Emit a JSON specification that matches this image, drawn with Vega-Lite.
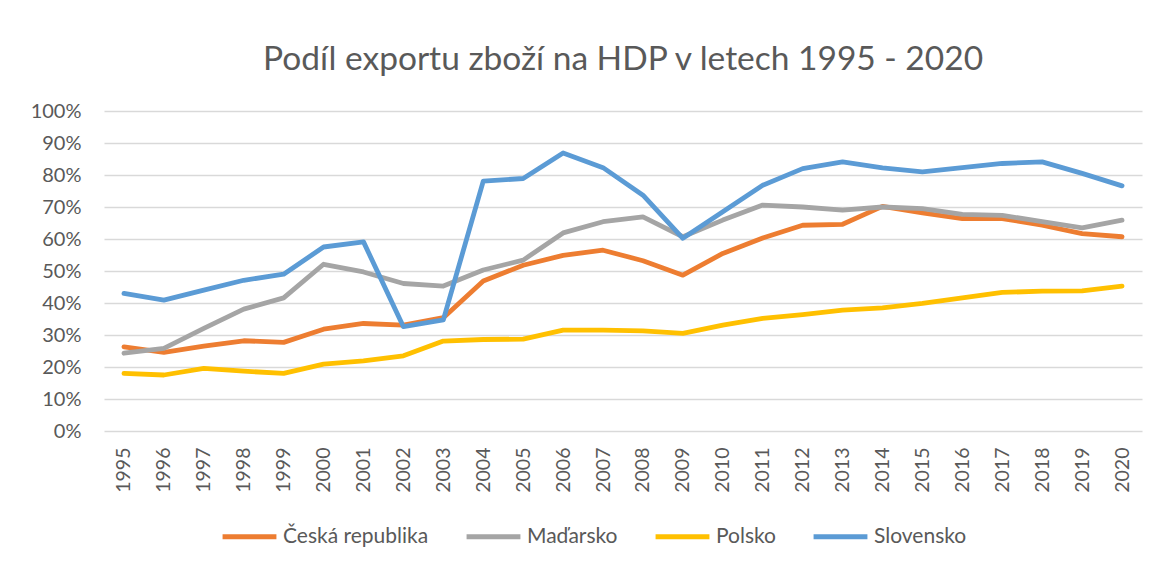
{
  "$schema": "https://vega.github.io/schema/vega-lite/v6.json",
  "width": 1038,
  "height": 320,
  "autosize": "none",
  "padding": {"left": 104, "top": 111, "right": 16, "bottom": 136},
  "background": "white",
  "title": {
    "text": "Podíl exportu zboží na HDP v letech 1995 - 2020",
    "font": "Lato",
    "fontSize": 33.5,
    "fontWeight": "normal",
    "color": "#595959",
    "anchor": "middle",
    "baseline": "alphabetic",
    "offset": -2
  },
  "data": {
    "values": [
      {"rok": "1995", "zeme": "Česká republika", "podil": 0.263},
      {"rok": "1996", "zeme": "Česká republika", "podil": 0.246},
      {"rok": "1997", "zeme": "Česká republika", "podil": 0.265},
      {"rok": "1998", "zeme": "Česká republika", "podil": 0.282},
      {"rok": "1999", "zeme": "Česká republika", "podil": 0.277},
      {"rok": "2000", "zeme": "Česká republika", "podil": 0.318},
      {"rok": "2001", "zeme": "Česká republika", "podil": 0.336},
      {"rok": "2002", "zeme": "Česká republika", "podil": 0.331},
      {"rok": "2003", "zeme": "Česká republika", "podil": 0.354},
      {"rok": "2004", "zeme": "Česká republika", "podil": 0.469},
      {"rok": "2005", "zeme": "Česká republika", "podil": 0.518},
      {"rok": "2006", "zeme": "Česká republika", "podil": 0.549},
      {"rok": "2007", "zeme": "Česká republika", "podil": 0.565},
      {"rok": "2008", "zeme": "Česká republika", "podil": 0.532},
      {"rok": "2009", "zeme": "Česká republika", "podil": 0.487},
      {"rok": "2010", "zeme": "Česká republika", "podil": 0.555},
      {"rok": "2011", "zeme": "Česká republika", "podil": 0.603},
      {"rok": "2012", "zeme": "Česká republika", "podil": 0.643},
      {"rok": "2013", "zeme": "Česká republika", "podil": 0.646},
      {"rok": "2014", "zeme": "Česká republika", "podil": 0.702},
      {"rok": "2015", "zeme": "Česká republika", "podil": 0.682},
      {"rok": "2016", "zeme": "Česká republika", "podil": 0.664},
      {"rok": "2017", "zeme": "Česká republika", "podil": 0.664},
      {"rok": "2018", "zeme": "Česká republika", "podil": 0.643},
      {"rok": "2019", "zeme": "Česká republika", "podil": 0.617},
      {"rok": "2020", "zeme": "Česká republika", "podil": 0.607},
      {"rok": "1995", "zeme": "Maďarsko", "podil": 0.243},
      {"rok": "1996", "zeme": "Maďarsko", "podil": 0.258},
      {"rok": "1997", "zeme": "Maďarsko", "podil": 0.321},
      {"rok": "1998", "zeme": "Maďarsko", "podil": 0.381},
      {"rok": "1999", "zeme": "Maďarsko", "podil": 0.416},
      {"rok": "2000", "zeme": "Maďarsko", "podil": 0.521},
      {"rok": "2001", "zeme": "Maďarsko", "podil": 0.497},
      {"rok": "2002", "zeme": "Maďarsko", "podil": 0.461},
      {"rok": "2003", "zeme": "Maďarsko", "podil": 0.453},
      {"rok": "2004", "zeme": "Maďarsko", "podil": 0.503},
      {"rok": "2005", "zeme": "Maďarsko", "podil": 0.534},
      {"rok": "2006", "zeme": "Maďarsko", "podil": 0.619},
      {"rok": "2007", "zeme": "Maďarsko", "podil": 0.654},
      {"rok": "2008", "zeme": "Maďarsko", "podil": 0.669},
      {"rok": "2009", "zeme": "Maďarsko", "podil": 0.607},
      {"rok": "2010", "zeme": "Maďarsko", "podil": 0.659},
      {"rok": "2011", "zeme": "Maďarsko", "podil": 0.706},
      {"rok": "2012", "zeme": "Maďarsko", "podil": 0.700},
      {"rok": "2013", "zeme": "Maďarsko", "podil": 0.690},
      {"rok": "2014", "zeme": "Maďarsko", "podil": 0.700},
      {"rok": "2015", "zeme": "Maďarsko", "podil": 0.695},
      {"rok": "2016", "zeme": "Maďarsko", "podil": 0.677},
      {"rok": "2017", "zeme": "Maďarsko", "podil": 0.674},
      {"rok": "2018", "zeme": "Maďarsko", "podil": 0.654},
      {"rok": "2019", "zeme": "Maďarsko", "podil": 0.635},
      {"rok": "2020", "zeme": "Maďarsko", "podil": 0.659},
      {"rok": "1995", "zeme": "Polsko", "podil": 0.180},
      {"rok": "1996", "zeme": "Polsko", "podil": 0.175},
      {"rok": "1997", "zeme": "Polsko", "podil": 0.196},
      {"rok": "1998", "zeme": "Polsko", "podil": 0.187},
      {"rok": "1999", "zeme": "Polsko", "podil": 0.180},
      {"rok": "2000", "zeme": "Polsko", "podil": 0.209},
      {"rok": "2001", "zeme": "Polsko", "podil": 0.219},
      {"rok": "2002", "zeme": "Polsko", "podil": 0.235},
      {"rok": "2003", "zeme": "Polsko", "podil": 0.281},
      {"rok": "2004", "zeme": "Polsko", "podil": 0.286},
      {"rok": "2005", "zeme": "Polsko", "podil": 0.287},
      {"rok": "2006", "zeme": "Polsko", "podil": 0.315},
      {"rok": "2007", "zeme": "Polsko", "podil": 0.315},
      {"rok": "2008", "zeme": "Polsko", "podil": 0.313},
      {"rok": "2009", "zeme": "Polsko", "podil": 0.305},
      {"rok": "2010", "zeme": "Polsko", "podil": 0.331},
      {"rok": "2011", "zeme": "Polsko", "podil": 0.352},
      {"rok": "2012", "zeme": "Polsko", "podil": 0.364},
      {"rok": "2013", "zeme": "Polsko", "podil": 0.378},
      {"rok": "2014", "zeme": "Polsko", "podil": 0.385},
      {"rok": "2015", "zeme": "Polsko", "podil": 0.399},
      {"rok": "2016", "zeme": "Polsko", "podil": 0.416},
      {"rok": "2017", "zeme": "Polsko", "podil": 0.433},
      {"rok": "2018", "zeme": "Polsko", "podil": 0.437},
      {"rok": "2019", "zeme": "Polsko", "podil": 0.438},
      {"rok": "2020", "zeme": "Polsko", "podil": 0.453},
      {"rok": "1995", "zeme": "Slovensko", "podil": 0.430},
      {"rok": "1996", "zeme": "Slovensko", "podil": 0.409},
      {"rok": "1997", "zeme": "Slovensko", "podil": 0.440},
      {"rok": "1998", "zeme": "Slovensko", "podil": 0.471},
      {"rok": "1999", "zeme": "Slovensko", "podil": 0.490},
      {"rok": "2000", "zeme": "Slovensko", "podil": 0.575},
      {"rok": "2001", "zeme": "Slovensko", "podil": 0.591},
      {"rok": "2002", "zeme": "Slovensko", "podil": 0.326},
      {"rok": "2003", "zeme": "Slovensko", "podil": 0.347},
      {"rok": "2004", "zeme": "Slovensko", "podil": 0.781},
      {"rok": "2005", "zeme": "Slovensko", "podil": 0.789},
      {"rok": "2006", "zeme": "Slovensko", "podil": 0.869},
      {"rok": "2007", "zeme": "Slovensko", "podil": 0.823},
      {"rok": "2008", "zeme": "Slovensko", "podil": 0.737},
      {"rok": "2009", "zeme": "Slovensko", "podil": 0.602},
      {"rok": "2010", "zeme": "Slovensko", "podil": 0.685},
      {"rok": "2011", "zeme": "Slovensko", "podil": 0.768},
      {"rok": "2012", "zeme": "Slovensko", "podil": 0.820},
      {"rok": "2013", "zeme": "Slovensko", "podil": 0.841},
      {"rok": "2014", "zeme": "Slovensko", "podil": 0.822},
      {"rok": "2015", "zeme": "Slovensko", "podil": 0.810},
      {"rok": "2016", "zeme": "Slovensko", "podil": 0.823},
      {"rok": "2017", "zeme": "Slovensko", "podil": 0.836},
      {"rok": "2018", "zeme": "Slovensko", "podil": 0.841},
      {"rok": "2019", "zeme": "Slovensko", "podil": 0.805},
      {"rok": "2020", "zeme": "Slovensko", "podil": 0.766}
    ]
  },
  "mark": {"type": "line", "strokeWidth": 4.8, "strokeCap": "round", "strokeJoin": "round"},
  "encoding": {
    "x": {
      "field": "rok",
      "type": "ordinal",
      "title": null,
      "scale": {"type": "point", "padding": 0.5},
      "axis": {
        "labelAngle": -90,
        "labelFont": "Lato",
        "labelFontSize": 19.5,
        "labelColor": "#595959",
        "labelPadding": 16,
        "ticks": false,
        "domain": false,
        "grid": false
      }
    },
    "y": {
      "field": "podil",
      "type": "quantitative",
      "title": null,
      "scale": {"domain": [0, 1], "nice": false},
      "axis": {
        "values": [0, 0.1, 0.2, 0.3, 0.4, 0.5, 0.6, 0.7, 0.8, 0.9, 1],
        "format": ".0%",
        "labelFont": "Lato",
        "labelFontSize": 20,
        "labelColor": "#595959",
        "labelPadding": 23,
        "ticks": false,
        "domain": false,
        "grid": true,
        "gridColor": "#D9D9D9",
        "gridWidth": 1.3
      }
    },
    "color": {
      "field": "zeme",
      "type": "nominal",
      "title": null,
      "scale": {
        "domain": ["Česká republika", "Maďarsko", "Polsko", "Slovensko"],
        "range": ["#ED7D31", "#A5A5A5", "#FFC000", "#5B9BD5"]
      },
      "legend": {
        "orient": "none",
        "legendX": 116,
        "legendY": 396,
        "direction": "horizontal",
        "symbolType": "stroke",
        "symbolSize": 2900,
        "symbolStrokeWidth": 5,
        "labelFont": "Lato",
        "labelFontSize": 21,
        "labelColor": "#595959",
        "labelOffset": 4,
        "columnPadding": 27,
        "labelLimit": 300
      }
    }
  },
  "config": {
    "view": {"stroke": null}
  }
}
